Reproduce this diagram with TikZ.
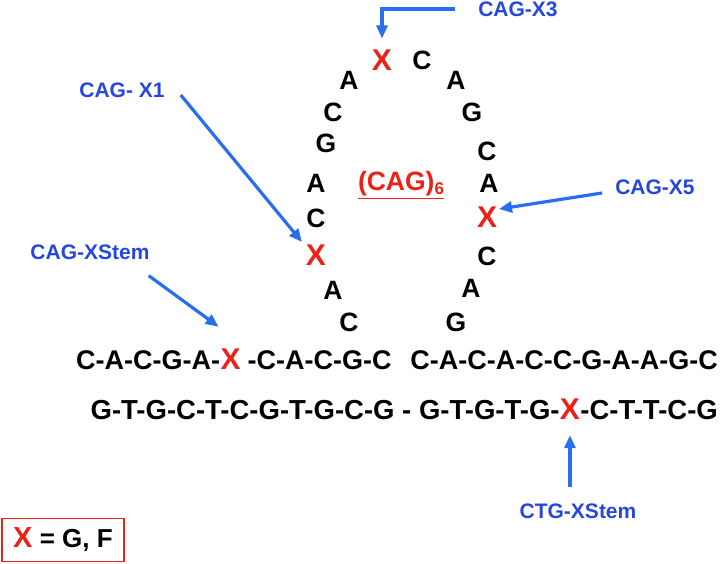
\documentclass[tikz,border=0pt]{standalone}
\usepackage{fontspec}
\setmainfont{Liberation Sans}
\usetikzlibrary{positioning, arrows.meta}
\definecolor{siteblue}{RGB}{38,70,222}
\definecolor{arrowblue}{RGB}{40,110,240}
\definecolor{xred}{RGB}{236,34,24}
\tikzstyle{base} = [inner sep=1pt, anchor=center, font=\fontsize{26.5}{26.5}\selectfont\bfseries]
\tikzstyle{redx} = [base, text=xred, font=\fontsize{30}{30}\selectfont\bfseries]
\tikzstyle{stemrow} = [inner sep=0pt, font=\fontsize{27}{27}\selectfont\bfseries]
\tikzstyle{stemx} = [stemrow, text=xred, font=\fontsize{30}{30}\selectfont\bfseries]
\tikzstyle{sitelabel} = [inner sep=1pt, text=siteblue, font=\fontsize{21}{21}\selectfont\bfseries]
\tikzstyle{bluearrow} = [draw=arrowblue, line width=3.2pt, -{Triangle[length=13pt,width=11pt]}]

\begin{document}
\begin{tikzpicture}[x=1pt, y=-1pt]
    \useasboundingbox (0,0) rectangle (720,563);

    \node (loopX3) [redx] at (382,60) {X};
    \node (top-c) [base] at (422,60) {C};

    \node (l1) [base] at (349,80) {A};
    \node (l2) [base] at (333,112) {C};
    \node (l3) [base] at (326,143) {G};
    \node (l4) [base] at (316,183) {A};
    \node (l5) [base] at (316,218) {C};
    \node (loopX1) [redx] at (316,255) {X};
    \node (l7) [base] at (333,290) {A};
    \node (l8) [base] at (349,322) {C};

    \node (r1) [base] at (456,80) {A};
    \node (r2) [base] at (472,112) {G};
    \node (r3) [base] at (487,151) {C};
    \node (r4) [base] at (489,183) {A};
    \node (loopX5) [redx] at (487,217) {X};
    \node (r6) [base] at (487,256) {C};
    \node (r7) [base] at (471,288) {A};
    \node (r8) [base] at (456,322) {G};

    \node (repeat) [base, text=xred] at (401,185) {\underline{(CAG)\raisebox{-0.25ex}{\fontsize{17}{17}\selectfont 6}}};

    \node (s1a) [stemrow, anchor=base west] at (76,369) {C-A-C-G-A-};
    \node (stemX) [stemx, base right=0pt of s1a] {X};
    \node (s1b) [stemrow, base right=0pt of stemX] {\hspace{0.25em}-C-A-C-G-C};
    \node (s1c) [stemrow, anchor=base east] at (718,369) {C-A-C-A-C-C-G-A-A-G-C};

    \node (s2c) [stemrow, font=\fontsize{27.5}{27.5}\selectfont\bfseries, anchor=base east] at (718,419) {-C-T-T-C-G};
    \node (botX) [stemx, base left=0pt of s2c] {X};
    \node (s2a) [stemrow, font=\fontsize{27.5}{27.5}\selectfont\bfseries, base left=0pt of botX] {G-T-G-C-T-C-G-T-G-C-G - G-T-G-T-G-\hspace{0.3em}};

    \node (x3lbl) [sitelabel] at (518,9) {CAG-X3};
    \node (x1lbl) [sitelabel] at (122,90) {CAG- X1};
    \node (x5lbl) [sitelabel] at (655,187) {CAG-X5};
    \node (xstemlbl) [sitelabel] at (90,252) {CAG-XStem};
    \node (ctglbl) [sitelabel] at (578,511) {CTG-XStem};

    \node (legend) [draw=xred, line width=1.2pt, minimum width=122pt, minimum height=43pt, font=\fontsize{26}{26}\selectfont\bfseries] at (63,540) {{\color{xred}\fontsize{29}{29}\selectfont X} = G, F};

    \coordinate (x1tail) at ([shift={(15,5)}]x1lbl.east);
    \coordinate (xstemtail) at ([shift={(-2,15)}]xstemlbl.south east);
    \coordinate (x5tail) at ([shift={(-12,6)}]x5lbl.west);

    \draw [bluearrow, shorten <=22pt, shorten >=10pt] (x3lbl.west) -| (loopX3.north);
    \draw [bluearrow] (x1tail) -- ([shift={(-14,-13)}]loopX1.center);
    \draw [bluearrow] (xstemtail) -- ([shift={(-12,-32)}]stemX.center);
    \draw [bluearrow] (x5tail) -- ([shift={(12,-8)}]loopX5.center);
    \draw [bluearrow, shorten <=15pt, shorten >=16pt] (botX |- ctglbl.north) -- (botX.south);
\end{tikzpicture}
\end{document}
